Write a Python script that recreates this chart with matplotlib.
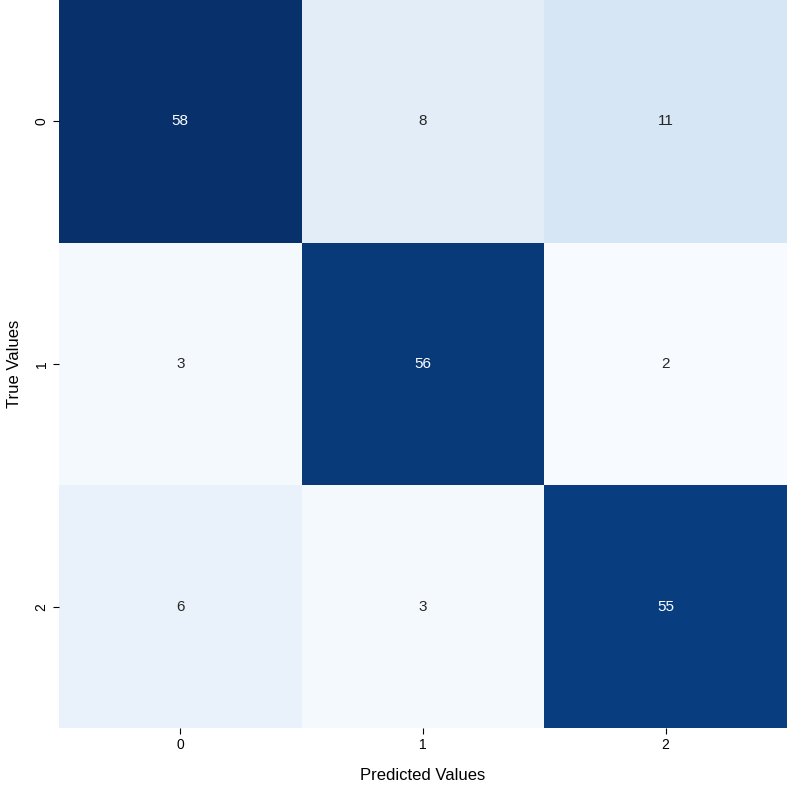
import matplotlib
matplotlib.use("Agg")
import matplotlib.pyplot as plt
import seaborn as sns
import numpy as np

plt.rcParams["font.family"] = "Liberation Sans"

labels = ["0", "1", "2"]
row0 = [58, 8, 11]
row1 = [3, 56, 2]
row2 = [6, 3, 55]
cm = np.array([row0, row1, row2])

fig = plt.figure(figsize=(7.87, 7.85), dpi=100)
ax = fig.add_axes([59/787, 1 - 728/785, 1 - 59/787, 728/785])
sns.heatmap(cm, annot=True, fmt="d", cmap="Blues", cbar=False, ax=ax,
            xticklabels=labels, yticklabels=labels, annot_kws={"fontsize": 11})
ax.set_xlabel("Predicted Values", fontsize=12, labelpad=11)
ax.set_ylabel("True Values", fontsize=12, labelpad=9)
ax.tick_params(labelsize=10, length=4)
fig.savefig("out.png", dpi=100)
